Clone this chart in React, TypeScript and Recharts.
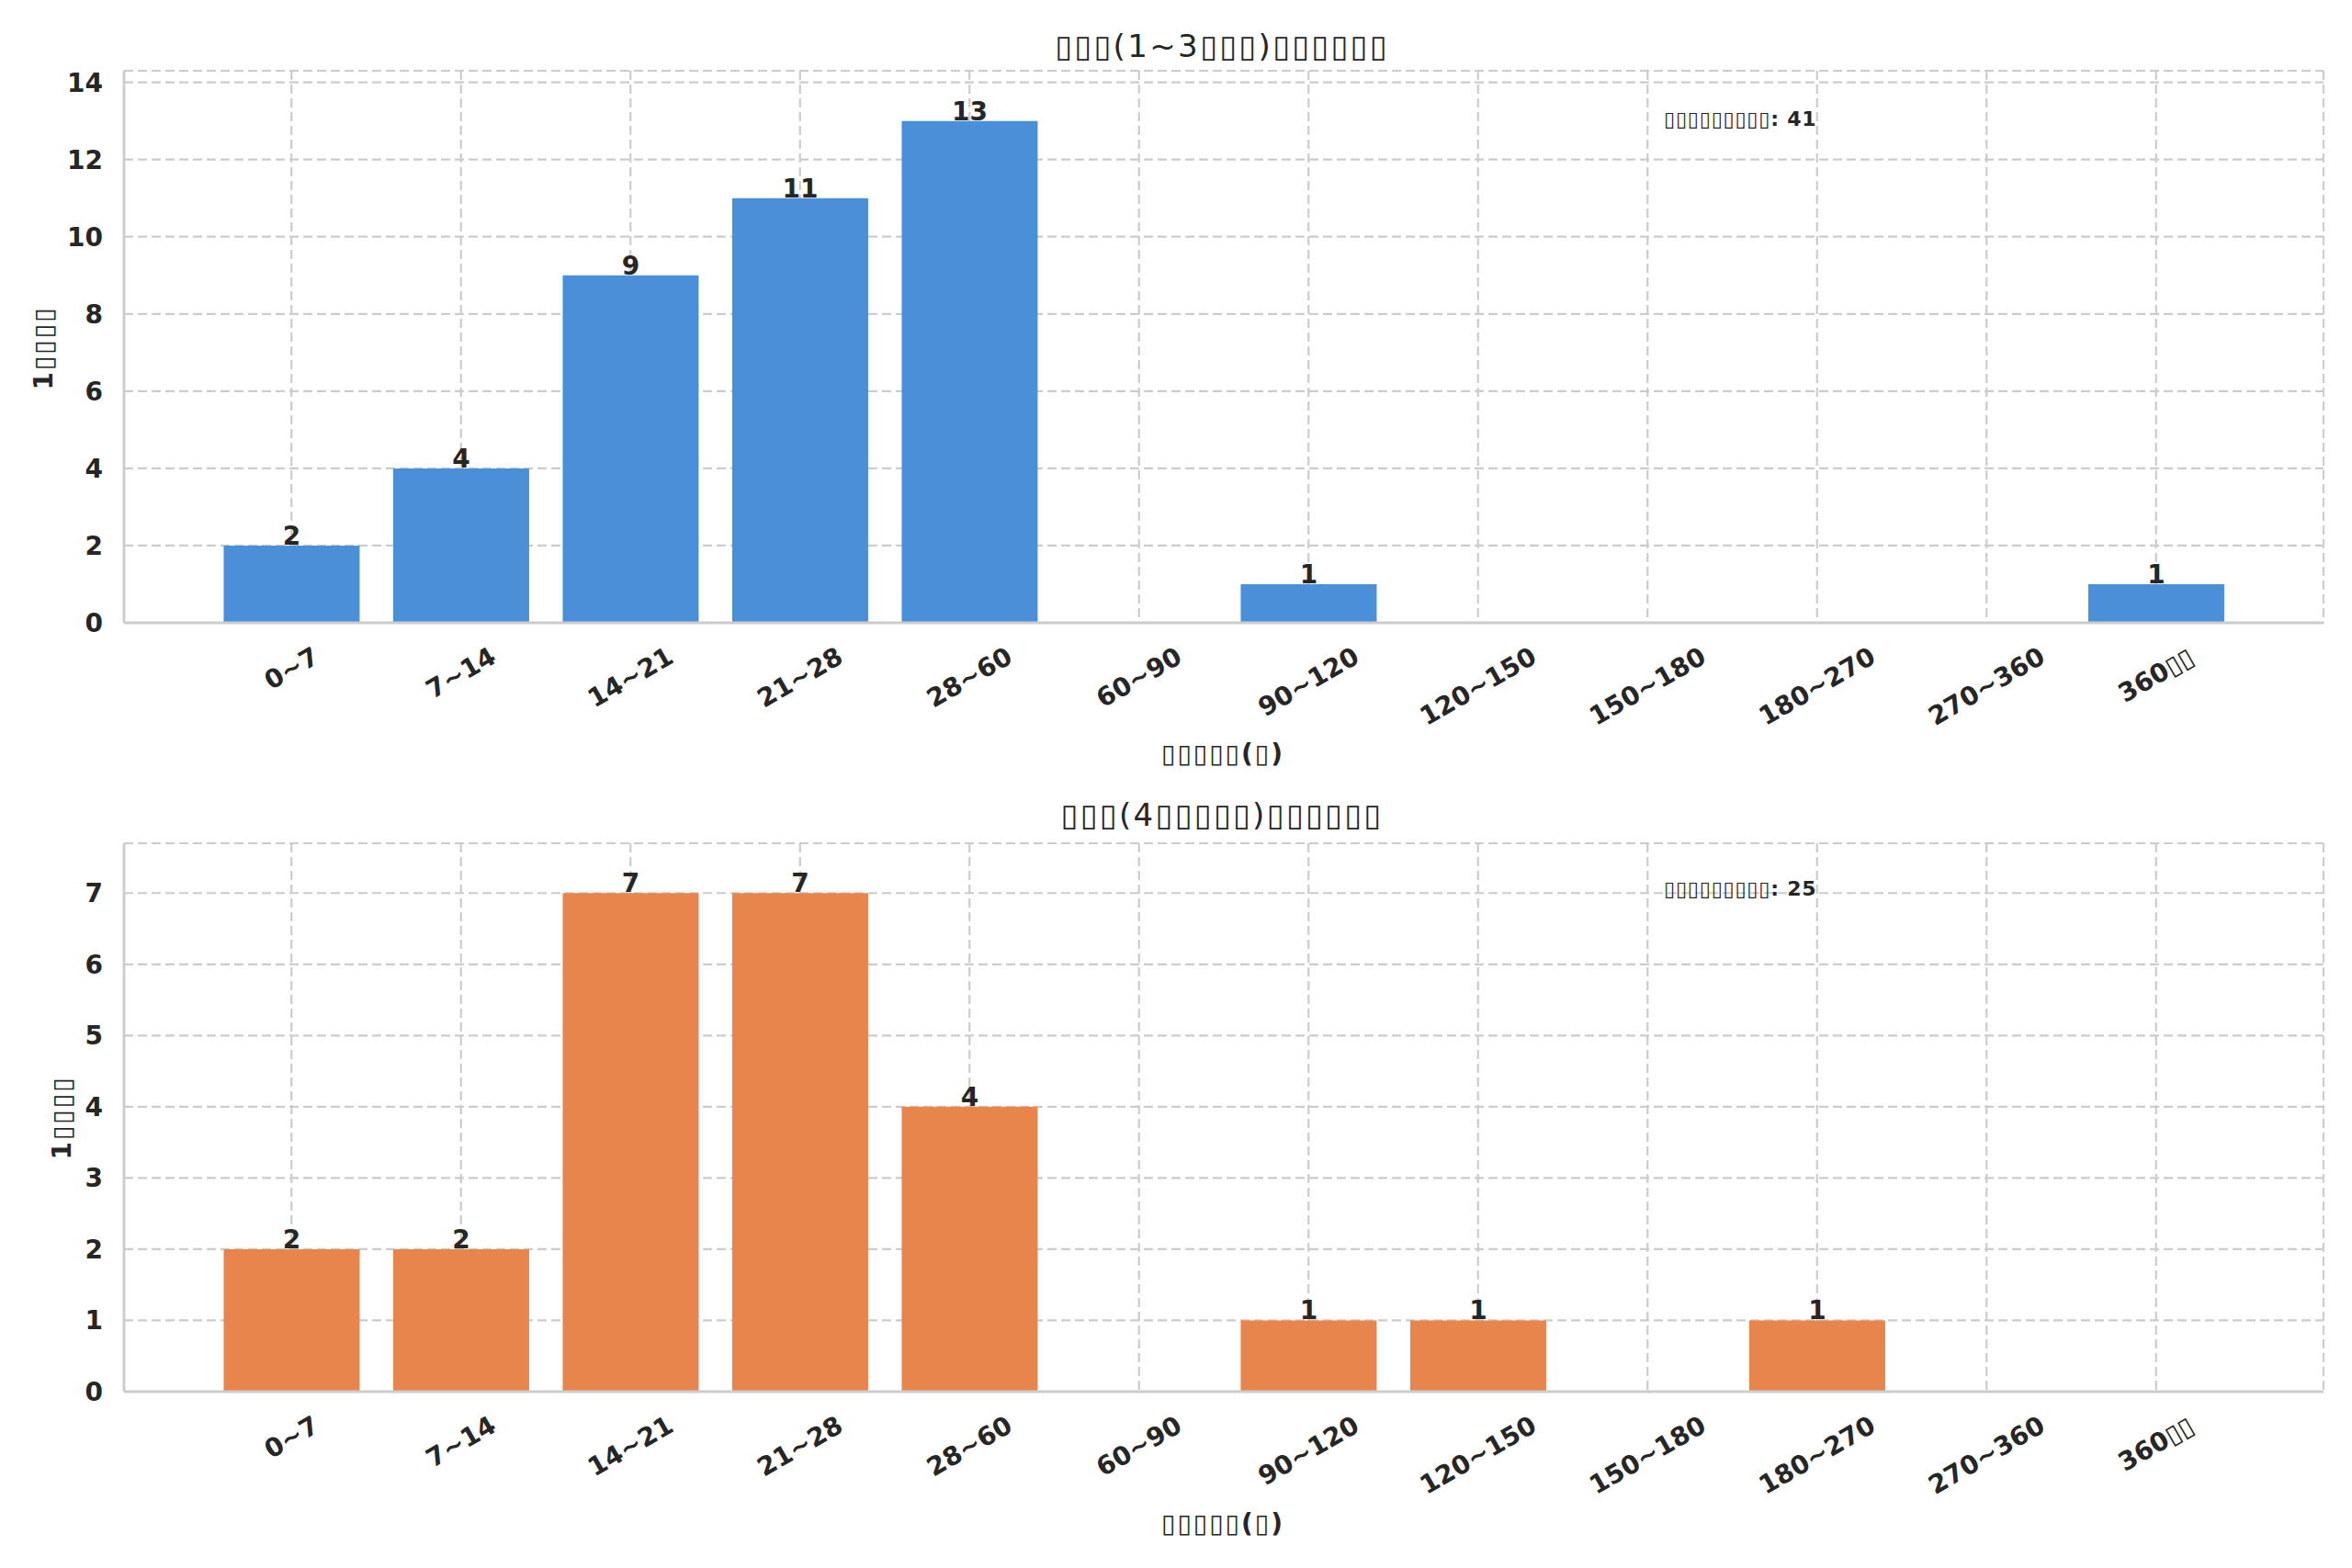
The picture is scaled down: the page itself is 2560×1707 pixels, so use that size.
import React from 'react';
import { BarChart, Bar, XAxis, YAxis, CartesianGrid, LabelList } from 'recharts';

const categories = ['0~7', '7~14', '14~21', '21~28', '28~60', '60~90', '90~120', '120~150', '150~180', '180~270', '270~360', '360▯▯'];
const shortTermCounts = [2, 4, 9, 11, 13, 0, 1, 0, 0, 0, 0, 1];
const longTermCounts = [2, 2, 7, 7, 4, 0, 1, 1, 0, 1, 0, 0];
const shortTicks = [0, 2, 4, 6, 8, 10, 12, 14];
const longTicks = [0, 1, 2, 3, 4, 5, 6, 7];

const titleTop = '▯▯▯(1~3▯▯▯)▯▯▯▯▯▯';
const titleBottom = '▯▯▯(4▯▯▯▯▯)▯▯▯▯▯▯';
const xLabel = '▯▯▯▯▯(▯)';
const yLabel = '1▯▯▯▯';
const totalLabel = '▯▯▯▯▯▯▯▯▯';

const FONT = '"DejaVu Sans", sans-serif';
const TEXT = '#262626';
const GRID = '#cccccc';
const TICK_FONT = 28;

const charW = (ch: string) => (/[0-9]/.test(ch) ? 0.696 : ch === '~' ? 0.838 : 0.6);

function XTick(props: any) {
  const { x, y, payload } = props;
  const label = String(payload.value);
  const w = [...label].reduce((s, c) => s + charW(c), 0) * TICK_FONT;
  const cy = y + 22 + w * 0.25 + 12;
  return (
    <text
      x={x}
      y={cy}
      textAnchor="middle"
      dominantBaseline="central"
      transform={`rotate(-30, ${x}, ${cy})`}
      fontFamily={FONT}
      fontSize={TICK_FONT}
      fontWeight="bold"
      fill={TEXT}
    >
      {label}
    </text>
  );
}

function Panel(props: {
  values: number[];
  ticks: number[];
  color: string;
  marginTop: number;
  height: number;
  xAxisHeight: number;
}) {
  const data = categories.map((c, i) => ({ cat: c, v: props.values[i] }));
  return (
    <BarChart
      width={2560}
      height={props.height}
      data={data}
      margin={{ top: props.marginTop, right: 31, bottom: 0, left: 0 }}
      barCategoryGap="10%"
    >
      <CartesianGrid stroke={GRID} strokeDasharray="10 5" strokeWidth={2.2} />
      <XAxis
        dataKey="cat"
        height={props.xAxisHeight}
        padding={{ left: 90, right: 90 }}
        tickLine={false}
        tickSize={0}
        tickMargin={0}
        axisLine={{ stroke: GRID, strokeWidth: 2.8 }}
        tick={<XTick />}
        interval={0}
      />
      <XAxis
        xAxisId="top"
        orientation="top"
        dataKey="cat"
        height={0}
        tick={false}
        tickLine={false}
        axisLine={{ stroke: GRID, strokeWidth: 2.8 }}
      />
      <YAxis
        width={135}
        domain={[0, (dataMax: number) => dataMax * 1.1]}
        allowDataOverflow
        ticks={props.ticks}
        tickLine={false}
        tickSize={0}
        tickMargin={23}
        axisLine={{ stroke: GRID, strokeWidth: 2.8 }}
        tick={{ fontFamily: FONT, fontSize: TICK_FONT, fontWeight: 'bold', fill: TEXT }}
      />
      <YAxis
        yAxisId="right"
        orientation="right"
        width={0}
        tick={false}
        tickLine={false}
        axisLine={{ stroke: GRID, strokeWidth: 2.8 }}
      />
      <Bar dataKey="v" fill={props.color} isAnimationActive={false}>
        <LabelList
          dataKey="v"
          position="top"
          offset={1}
          formatter={(v: any) => (v > 0 ? v : '')}
          style={{ fontFamily: FONT, fontSize: TICK_FONT, fontWeight: 'bold' }}
          fill={TEXT}
        />
      </Bar>
    </BarChart>
  );
}

const textBase: React.CSSProperties = {
  position: 'absolute',
  fontFamily: FONT,
  color: TEXT,
  whiteSpace: 'nowrap',
  lineHeight: 1,
};

export default function App() {
  const sumTop = shortTermCounts.reduce((a, b) => a + b, 0);
  const sumBottom = longTermCounts.reduce((a, b) => a + b, 0);
  const titleStyle: React.CSSProperties = { ...textBase, fontSize: 34, letterSpacing: 2.4, transform: 'translate(-50%, -50%)' };
  const xLabelStyle: React.CSSProperties = { ...textBase, fontSize: 28, fontWeight: 'bold', letterSpacing: 2, transform: 'translate(-50%, -50%)' };
  const yLabelStyle: React.CSSProperties = { ...textBase, fontSize: 28, fontWeight: 'bold', letterSpacing: 2, transform: 'translate(-50%, -50%) rotate(-90deg)' };
  const noteStyle: React.CSSProperties = { ...textBase, fontSize: 22, fontWeight: 'bold', letterSpacing: 0.8, transform: 'translateY(-50%)' };
  return (
    <div style={{ position: 'absolute', left: 0, top: 0, width: 2560, height: 1707, background: '#fff', overflow: 'hidden' }}>
      <div style={{ position: 'absolute', left: 0, top: 0 }}>
        <Panel values={shortTermCounts} ticks={shortTicks} color="#4a90d9" marginTop={77} height={853} xAxisHeight={175} />
      </div>
      <div style={{ position: 'absolute', left: 0, top: 853 }}>
        <Panel values={longTermCounts} ticks={longTicks} color="#e8854c" marginTop={65} height={854} xAxisHeight={192} />
      </div>

      <div style={{ ...titleStyle, left: 1330, top: 50 }}>{titleTop}</div>
      <div style={{ ...titleStyle, left: 1330, top: 887 }}>{titleBottom}</div>

      <div style={{ ...xLabelStyle, left: 1331, top: 821 }}>{xLabel}</div>
      <div style={{ ...xLabelStyle, left: 1331, top: 1659 }}>{xLabel}</div>

      <div style={{ ...yLabelStyle, left: 48, top: 379 }}>{yLabel}</div>
      <div style={{ ...yLabelStyle, left: 68, top: 1217 }}>{yLabel}</div>

      <div style={{ ...noteStyle, left: 1811, top: 130 }}>{`${totalLabel}: ${sumTop}`}</div>
      <div style={{ ...noteStyle, left: 1811, top: 968 }}>{`${totalLabel}: ${sumBottom}`}</div>
    </div>
  );
}
